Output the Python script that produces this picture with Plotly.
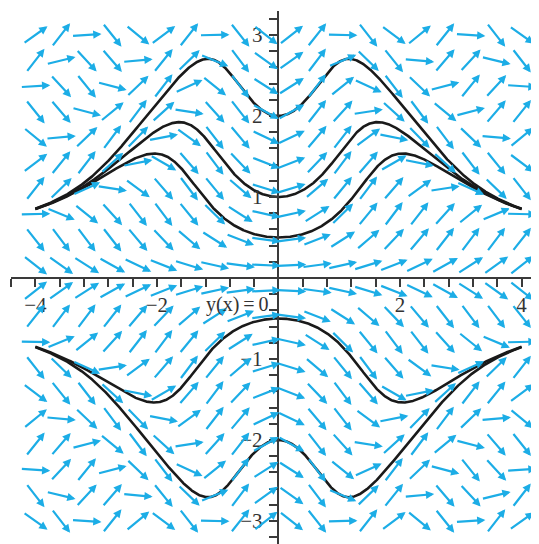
import numpy as np
import plotly.graph_objects as go

# ---- data ----
# direction field of dy/dx = sin(x*y) on a 20 x 20 grid
grid_x_min, grid_x_max, grid_nx = -4.0, 4.0, 20
grid_y_min, grid_y_max, grid_ny = -3.0, 3.0, 20
# initial values y(0) of the drawn solution curves
initial_y0 = [2.0, 1.0, 0.5, -0.5, -2.0]
curve_x_limits = [-4.0, 4.0]
x_tick_labels = {-4: "−4", -2: "−2", 2: "2", 4: "4"}
y_tick_labels = {-3: "−3", -2: "−2", -1: "−1", 1: "1", 2: "2", 3: "3"}


def slope(x, y):
    return np.sin(x * y)


def solve(y0, x_end, h=0.005):
    n = int(abs(x_end) / h)
    h = x_end / n
    xs = [0.0]
    ys = [y0]
    x, y = 0.0, y0
    for _ in range(n):
        k1 = slope(x, y)
        k2 = slope(x + h / 2, y + h / 2 * k1)
        k3 = slope(x + h / 2, y + h / 2 * k2)
        k4 = slope(x + h, y + h * k3)
        y = y + h / 6 * (k1 + 2 * k2 + 2 * k3 + k4)
        x = x + h
        xs.append(x)
        ys.append(y)
    return xs, ys


# ---- layout geometry (page body has an 8px margin) ----
W, H = 531, 536
x_dom = [3 / W, 1.0]
y_dom = [0.0, 1 - 3 / H]
x_range = [-4.40, 4.286]
y_range = [-3.284, 3.296]
sx = W * (x_dom[1] - x_dom[0]) / (x_range[1] - x_range[0])
sy = H * (y_dom[1] - y_dom[0]) / (y_range[1] - y_range[0])

ARROW = "#1CADE6"
AXIS = "#3a3a3a"
FONT = "Liberation Serif"

fig = go.Figure()

for y0 in initial_y0:
    xl, yl = solve(y0, curve_x_limits[0])
    xr, yr = solve(y0, curve_x_limits[1])
    xs = xl[::-1] + xr[1:]
    ys = yl[::-1] + yr[1:]
    fig.add_trace(go.Scatter(x=xs, y=ys, mode="lines",
                             line=dict(color="#1a1a1a", width=2.6),
                             hoverinfo="skip", showlegend=False))

annotations = []
L = 30.0
gx = np.linspace(grid_x_min, grid_x_max, grid_nx)
gy = np.linspace(grid_y_min, grid_y_max, grid_ny)
for xv in gx:
    for yv in gy:
        f = slope(xv, yv)
        vx, vy = sx, sy * f
        n = np.hypot(vx, vy)
        ux, uy = vx / n, vy / n
        dxd = (L / 2) * ux / sx
        dyd = (L / 2) * uy / sy
        annotations.append(dict(
            x=xv + dxd, y=yv + dyd, ax=xv - dxd, ay=yv - dyd,
            xref="x", yref="y", axref="x", ayref="y",
            text="", showarrow=True, arrowhead=2, arrowsize=0.75,
            arrowwidth=2.2, arrowcolor=ARROW, standoff=0, startstandoff=0))

annotations.append(dict(x=-0.68, y=-0.33, xref="x", yref="y", text="y(x)\u2009=\u20090",
                        showarrow=False, font=dict(family=FONT, size=20, color="#333")))

xt = [round(v, 1) for v in np.arange(-4.4, 4.41, 0.4)]
yt = [round(v, 1) for v in np.arange(-3.2, 3.21, 0.2)]

fig.update_layout(
    width=W, height=H, margin=dict(l=0, r=0, t=0, b=0),
    plot_bgcolor="white", paper_bgcolor="white",
    annotations=annotations,
    xaxis=dict(domain=x_dom, range=x_range, anchor="free",
               position=(0 - y_range[0]) / (y_range[1] - y_range[0]) * (y_dom[1] - y_dom[0]) + y_dom[0],
               showgrid=False, zeroline=False, showline=True, linecolor=AXIS, linewidth=1.5,
               ticks="outside", ticklen=8, tickwidth=1.5, tickcolor=AXIS,
               tickvals=xt, ticktext=[x_tick_labels.get(int(round(v)), "") if abs(v - round(v)) < 1e-9 else "" for v in xt],
               tickfont=dict(family=FONT, size=21, color="#333")),
    yaxis=dict(domain=y_dom, range=y_range, anchor="free",
               position=(0 - x_range[0]) / (x_range[1] - x_range[0]) * (x_dom[1] - x_dom[0]) + x_dom[0],
               showgrid=False, zeroline=False, showline=True, linecolor=AXIS, linewidth=1.5,
               ticks="outside", ticklen=9, tickwidth=1.5, tickcolor=AXIS,
               tickvals=yt, ticktext=[y_tick_labels.get(int(round(v)), "") if abs(v - round(v)) < 1e-9 else "" for v in yt],
               tickfont=dict(family=FONT, size=21, color="#333"), ticklabelstandoff=2),
)

fig.write_html("out.html")
